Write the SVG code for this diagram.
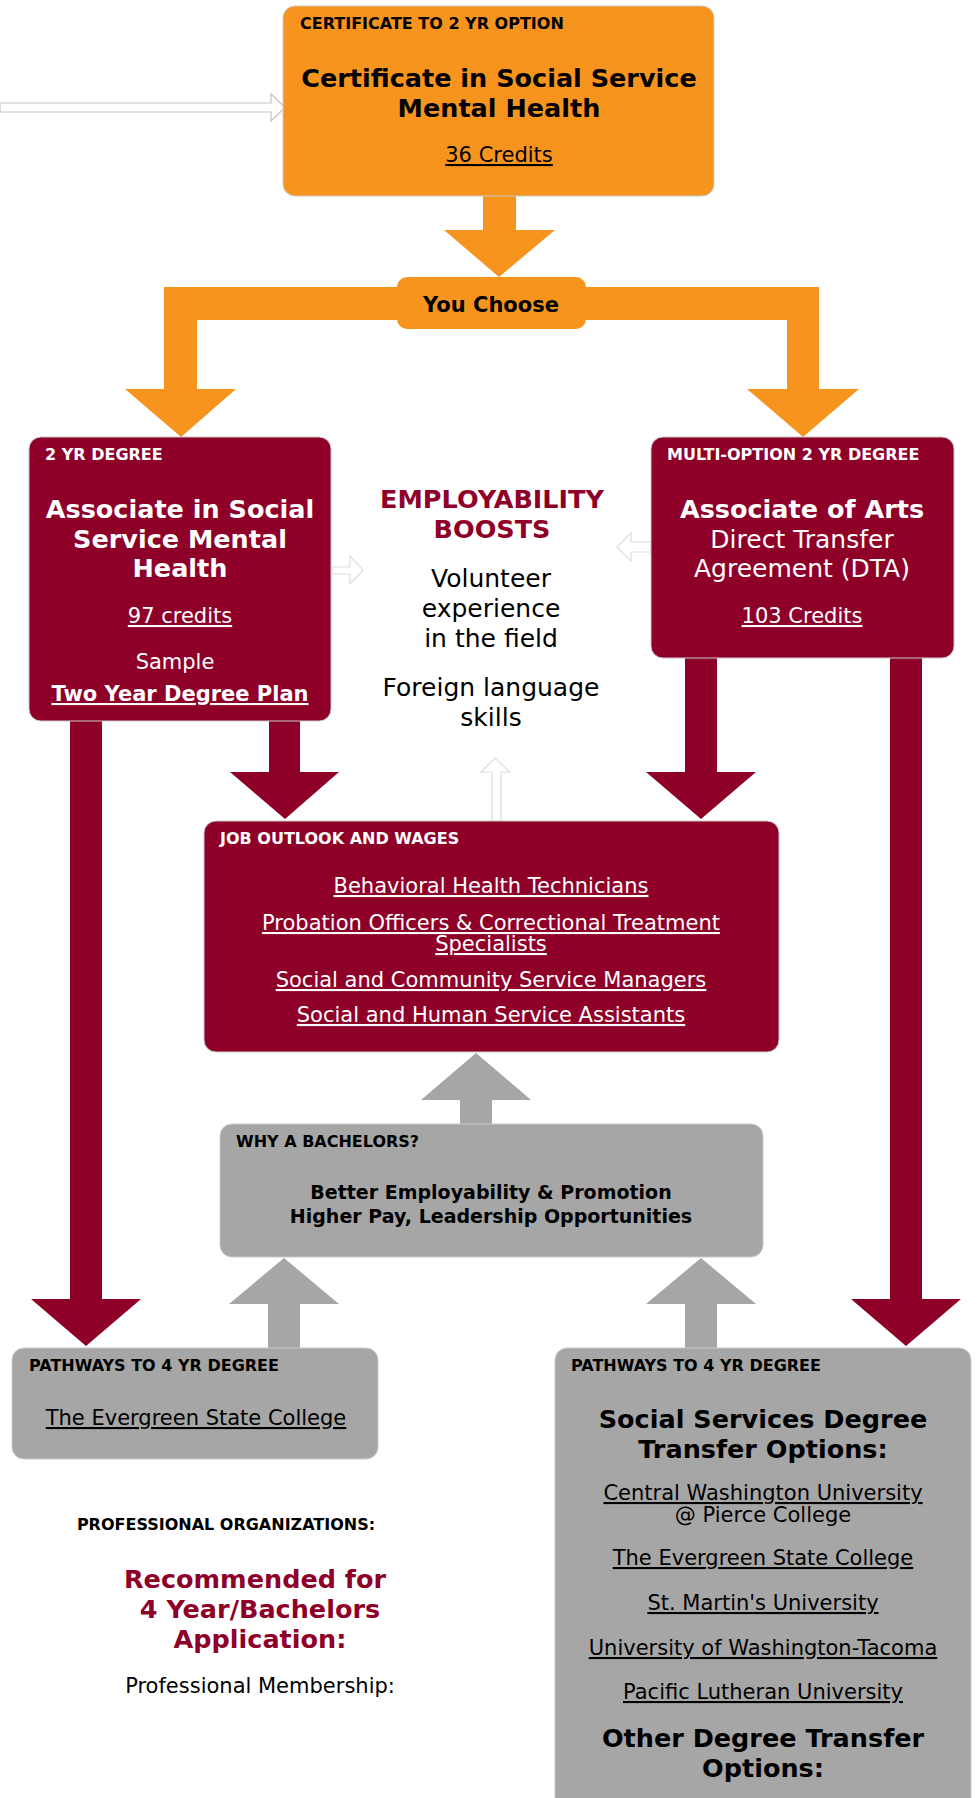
<svg xmlns="http://www.w3.org/2000/svg" width="977" height="1798" viewBox="0 0 977 1798">
<style>
text{font-family:"DejaVu Sans","Liberation Sans",sans-serif}
.orange{fill:#F7941E}
.maroon{fill:#8F0029}
.gray{fill:#A6A6A6}
.box{stroke:#c9c9c9;stroke-width:1}
.hd{font-size:16px;font-weight:bold}
.big{font-size:25.5px;font-weight:bold;text-anchor:middle}
.reg{font-size:21px;text-anchor:middle}
.lnk{font-size:21px;text-anchor:middle;text-decoration:underline}
.w{fill:#ffffff}
.k{fill:#000000}
.m{fill:#8F0029}
.hollow{fill:#ffffff;stroke:#c4c4c4;stroke-width:1.2}
.hollow2{fill:#ffffff;stroke:#dddddd;stroke-width:1.2}
</style>
<g id="connectors">
<polygon class="orange" points="483,195 516,195 516,230 555,230 499,277 444,230 483,230"/>
<polygon class="orange" points="164,287 819,287 819,389 859,389 803,437 747,389 787,389 787,320 197,320 197,389 236,389 181,437 125,389 164,389"/>
<polygon class="maroon" points="70,720 102,720 102,1299 141,1299 86,1346 31,1299 70,1299"/>
<polygon class="maroon" points="269,720 300,720 300,772 339,772 285,819 230,772 269,772"/>
<polygon class="maroon" points="685,657 717,657 717,772 756,772 701,819 646,772 685,772"/>
<polygon class="maroon" points="890,657 922,657 922,1299 961,1299 906,1346 851,1299 890,1299"/>
<polygon class="gray" points="460,1125 492,1125 492,1100 531,1100 476,1053 421,1100 460,1100"/>
<polygon class="gray" points="268,1349 300,1349 300,1304 339,1304 284,1258 229,1304 268,1304"/>
<polygon class="gray" points="685,1349 717,1349 717,1304 756,1304 701,1258 646,1304 685,1304"/>
<polygon class="hollow" points="0,103 271,103 271,94 285,107.5 271,121 271,112 0,112"/>
<polygon class="hollow2" points="332,567 350,567 350,556 363,570 350,584 350,574 332,574"/>
<polygon class="hollow2" points="651,542 631,542 631,533 617,547 631,561 631,552 651,552"/>
<polygon class="hollow2" points="492,821 492,772 481,772 495,758 510,772 501,772 501,821"/>
</g>
<g id="certificate">
<rect class="orange box" x="283" y="6" width="431" height="190" rx="12"/>
<text class="hd k" x="300" y="29">CERTIFICATE TO 2 YR OPTION</text>
<text class="big k" x="499" y="87">Certificate in Social Service</text>
<text class="big k" x="499" y="117">Mental Health</text>
<text class="lnk k" x="499" y="162">36 Credits</text>
</g>
<g id="you-choose">
<rect class="orange" x="397" y="277" width="189" height="52" rx="10"/>
<text class="k" x="491" y="312" font-size="21" font-weight="bold" text-anchor="middle">You Choose</text>
</g>
<g id="two-yr-degree">
<rect class="maroon box" x="29" y="437" width="302" height="284" rx="12"/>
<text class="hd w" x="45" y="460">2 YR DEGREE</text>
<text class="big w" x="180" y="518">Associate in Social</text>
<text class="big w" x="180" y="548">Service Mental</text>
<text class="big w" x="180" y="577">Health</text>
<text class="lnk w" x="180" y="623">97 credits</text>
<text class="reg w" x="175" y="669">Sample</text>
<text class="lnk w" x="180" y="701" font-weight="bold">Two Year Degree Plan</text>
</g>
<g id="employability">
<text class="m" x="492" y="508" font-size="25.5" font-weight="bold" text-anchor="middle">EMPLOYABILITY</text>
<text class="m" x="492" y="538" font-size="25.5" font-weight="bold" text-anchor="middle">BOOSTS</text>
<text class="k" x="491" y="587" font-size="25" text-anchor="middle">Volunteer</text>
<text class="k" x="491" y="617" font-size="25" text-anchor="middle">experience</text>
<text class="k" x="491" y="647" font-size="25" text-anchor="middle">in the field</text>
<text class="k" x="491" y="696" font-size="25" text-anchor="middle">Foreign language</text>
<text class="k" x="491" y="726" font-size="25" text-anchor="middle">skills</text>
</g>
<g id="multi-option">
<rect class="maroon box" x="651" y="437" width="303" height="221" rx="12"/>
<text class="hd w" x="667" y="460">MULTI-OPTION 2 YR DEGREE</text>
<text class="big w" x="802" y="518">Associate of Arts</text>
<text class="w" x="802" y="548" font-size="25" text-anchor="middle">Direct Transfer</text>
<text class="w" x="802" y="577" font-size="25" text-anchor="middle">Agreement (DTA)</text>
<text class="lnk w" x="802" y="623">103 Credits</text>
</g>
<g id="job-outlook">
<rect class="maroon box" x="204" y="821" width="575" height="231" rx="12"/>
<text class="hd w" x="220" y="844">JOB OUTLOOK AND WAGES</text>
<text class="lnk w" x="491" y="893">Behavioral Health Technicians</text>
<text class="lnk w" x="491" y="930">Probation Officers &amp; Correctional Treatment</text>
<text class="lnk w" x="491" y="951">Specialists</text>
<text class="lnk w" x="491" y="987">Social and Community Service Managers</text>
<text class="lnk w" x="491" y="1022">Social and Human Service Assistants</text>
</g>
<g id="why-bachelors">
<rect class="gray box" x="220" y="1124" width="543" height="133" rx="12"/>
<text class="hd k" x="236" y="1147">WHY A BACHELORS?</text>
<text class="k" x="491" y="1199" font-size="19" font-weight="bold" text-anchor="middle">Better Employability &amp; Promotion</text>
<text class="k" x="491" y="1223" font-size="19" font-weight="bold" text-anchor="middle">Higher Pay, Leadership Opportunities</text>
</g>
<g id="pathways-left">
<rect class="gray box" x="12" y="1348" width="366" height="111" rx="12"/>
<text class="hd k" x="29" y="1371">PATHWAYS TO 4 YR DEGREE</text>
<text class="lnk k" x="196" y="1425">The Evergreen State College</text>
</g>
<g id="pathways-right">
<rect class="gray box" x="555" y="1348" width="416" height="470" rx="12"/>
<text class="hd k" x="571" y="1371">PATHWAYS TO 4 YR DEGREE</text>
<text class="big k" x="763" y="1428">Social Services Degree</text>
<text class="big k" x="763" y="1458">Transfer Options:</text>
<text class="lnk k" x="763" y="1500">Central Washington University</text>
<text class="reg k" x="763" y="1522">@ Pierce College</text>
<text class="lnk k" x="763" y="1565">The Evergreen State College</text>
<text class="lnk k" x="763" y="1610">St. Martin's University</text>
<text class="lnk k" x="763" y="1655">University of Washington-Tacoma</text>
<text class="lnk k" x="763" y="1699">Pacific Lutheran University</text>
<text class="big k" x="763" y="1747">Other Degree Transfer</text>
<text class="big k" x="763" y="1777">Options:</text>
</g>
<g id="professional-orgs">
<text class="hd k" x="226" y="1530" text-anchor="middle">PROFESSIONAL ORGANIZATIONS:</text>
<text class="big m" x="255" y="1588">Recommended for</text>
<text class="big m" x="260" y="1618">4 Year/Bachelors</text>
<text class="big m" x="260" y="1648">Application:</text>
<text class="reg k" x="260" y="1693">Professional Membership:</text>
</g>
</svg>
